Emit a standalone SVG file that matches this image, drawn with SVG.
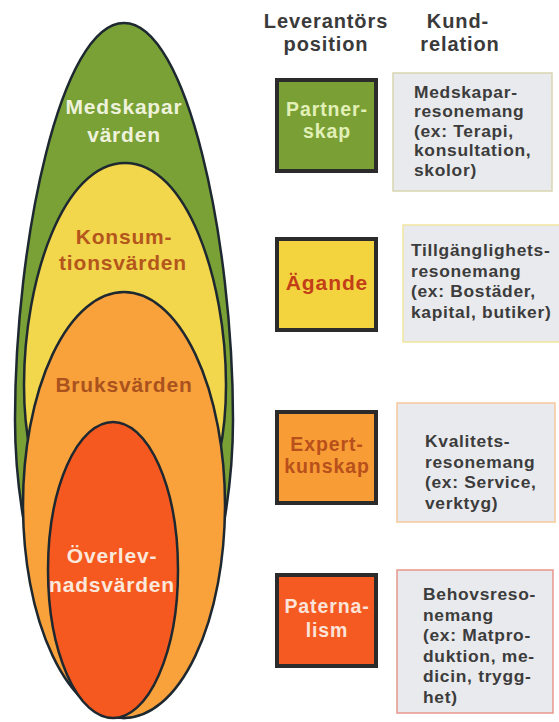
<svg xmlns="http://www.w3.org/2000/svg" width="559" height="722" viewBox="0 0 559 722">
<style>
text{font-family:"Liberation Sans",Arial,sans-serif;font-weight:700}
.ell{stroke:#1e2830;stroke-width:2.5}
.big{font-size:21px;text-anchor:middle;letter-spacing:0.8px}
.head{font-size:20px;text-anchor:middle;fill:#3a3a3a;letter-spacing:0.9px}
.pos{stroke:#2b2b2b;stroke-width:4}
.lab{font-size:19.5px;text-anchor:middle;letter-spacing:0.9px}
.rel{fill:#e9eaed;stroke-width:1.5}
.rt{font-size:17.4px;fill:#3c3c3c;letter-spacing:0.7px}
</style>
<rect width="559" height="722" fill="#ffffff"/>
<g id="values">
<g id="medskapar">
<path class="ell" fill="#79a136" d="M124,23 C187,23 233,240 233,420 C233,570 172,718 124,718 C76,718 15,570 15,420 C15,240 61,23 124,23 Z"/>
<text class="big" x="124" y="114" fill="#eef2dc">Medskapar</text>
<text class="big" x="124" y="142" fill="#eef2dc">värden</text>
</g>
<g id="konsumtion">
<path class="ell" fill="#f2d64c" d="M125,163 C187,163 226,280 226,385 C226,480 190,560 125,560 C60,560 24,480 24,385 C24,280 63,163 125,163 Z"/>
<text class="big" x="124" y="244" fill="#b4561c">Konsum-</text>
<text class="big" x="123" y="270" fill="#b4561c">tionsvärden</text>
</g>
<g id="bruk">
<ellipse class="ell" fill="#f9a23c" cx="124" cy="505" rx="101" ry="213"/>
<text class="big" x="124" y="392" fill="#a9521e">Bruksvärden</text>
</g>
<g id="overlevnad">
<ellipse class="ell" fill="#f5591f" cx="113" cy="570" rx="65" ry="148"/>
<text class="big" x="112" y="563" fill="#fbe8dc">Överlev-</text>
<text class="big" x="112" y="592" fill="#fbe8dc">nadsvärden</text>
</g>
</g>
<g id="headers">
<text class="head" x="326" y="28">Leverantörs</text>
<text class="head" x="326" y="50.5">position</text>
<text class="head" x="458" y="28">Kund-</text>
<text class="head" x="460" y="50.5">relation</text>
</g>
<g id="partnerskap">
<rect class="pos" x="277" y="80" width="99" height="91" fill="#7aa035"/>
<text class="lab" x="327" y="116" fill="#e2f0b8">Partner-</text>
<text class="lab" x="327" y="138" fill="#e2f0b8">skap</text>
</g>
<g id="agande">
<rect class="pos" x="277" y="239" width="99" height="91" fill="#f4d43e"/>
<text class="lab" x="327" y="290" fill="#c23e18" style="font-size:21px">Ägande</text>
</g>
<g id="expertkunskap">
<rect class="pos" x="277" y="412" width="99" height="91" fill="#f89c35"/>
<text class="lab" x="327" y="451" fill="#b8501c">Expert-</text>
<text class="lab" x="327" y="473" fill="#b8501c">kunskap</text>
</g>
<g id="paternalism">
<rect class="pos" x="277" y="575" width="99" height="91" fill="#f55a22"/>
<text class="lab" x="327" y="613" fill="#fbe4da">Paterna-</text>
<text class="lab" x="327" y="637" fill="#fbe4da">lism</text>
</g>
<g id="medskapar-resonemang">
<rect class="rel" x="393" y="73" width="159" height="118" stroke="#d8d6b0"/>
<text class="rt" x="414" y="97.5">Medskapar-</text>
<text class="rt" x="414" y="117">resonemang</text>
<text class="rt" x="414" y="136.5">(ex: Terapi,</text>
<text class="rt" x="414" y="156">konsultation,</text>
<text class="rt" x="414" y="175.5">skolor)</text>
</g>
<g id="tillganglighets-resonemang">
<rect class="rel" x="403" y="225" width="160" height="117" stroke="#efe6a0"/>
<text class="rt" x="411" y="256">Tillgänglighets-</text>
<text class="rt" x="411" y="276.5">resonemang</text>
<text class="rt" x="411" y="297">(ex: Bostäder,</text>
<text class="rt" x="411" y="317.5">kapital, butiker)</text>
</g>
<g id="kvalitets-resonemang">
<rect class="rel" x="397" y="403" width="158" height="119" stroke="#f6c89a"/>
<text class="rt" x="425" y="447">Kvalitets-</text>
<text class="rt" x="425" y="467.5">resonemang</text>
<text class="rt" x="425" y="488">(ex: Service,</text>
<text class="rt" x="425" y="508.5">verktyg)</text>
</g>
<g id="behovs-resonemang">
<rect class="rel" x="397" y="570" width="156" height="143" stroke="#e8968a"/>
<text class="rt" x="423" y="600">Behovsreso-</text>
<text class="rt" x="423" y="620.5">nemang</text>
<text class="rt" x="423" y="641">(ex: Matpro-</text>
<text class="rt" x="423" y="661.5">duktion, me-</text>
<text class="rt" x="423" y="682">dicin, trygg-</text>
<text class="rt" x="423" y="702.5">het)</text>
</g>
<g id="connectors"/>
</svg>
